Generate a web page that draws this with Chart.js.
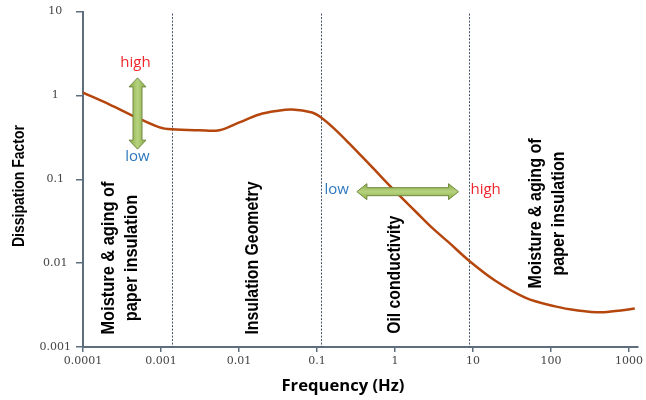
<!DOCTYPE html>
<html>
<head>
<meta charset="utf-8">
<script src="https://cdn.jsdelivr.net/npm/chart.js@4"></script>
<style>
html, body { margin: 0; padding: 0; background: #fff; }
</style>
</head>
<body>
<canvas id="grafico" width="646" height="400"></canvas>
<script>
// curve (Hz, dissipation factor)
const frequency = [0.0001, 0.00022, 0.00049, 0.00096, 0.00137, 0.0031, 0.0056, 0.0101, 0.0182, 0.03, 0.048, 0.0865, 0.113,
  0.165, 0.257, 0.506, 1.02, 1.84, 3.13, 4.86, 9.0, 19.4, 46.8, 113, 222, 438, 788, 1190];
const dissipation = [1.08, 0.778, 0.546, 0.416, 0.394, 0.384, 0.384, 0.477, 0.593, 0.652, 0.679, 0.626, 0.546,
  0.405, 0.270, 0.1405, 0.0712, 0.0413, 0.0254, 0.0178, 0.01063, 0.00617, 0.00389, 0.00305, 0.00273, 0.00259, 0.00273, 0.00288];

const xTicks = [0.0001, 0.001, 0.01, 0.1, 1, 10, 100, 1000];
const xTickLabels = ['0.0001', '0.001', '0.01', '0.1', '1', '10', '100', '1000'];
const yTicks = [0.001, 0.01, 0.1, 1, 10];
const yTickLabels = ['0.001', '0.01', '0.1', '1', '10'];

// frequencies where the regions change
const boundaries = [0.00137, 0.112, 9.0];
const regionNames = [
  ['Moisture & aging of', 'paper insulation'],
  ['Insulation Geometry'],
  ['Oil conductivity'],
  ['Moisture & aging of', 'paper insulation']
];

// where the notes sit, in data units
const regionSpots = [
  { x: 0.0003, y: 0.0115, len: 153 },
  { x: 0.015, y: 0.0115, len: 153 },
  { x: 1.0, y: 0.00727, len: 118 },
  { x: 90, y: 0.0392, len: 150 }
];
const vArrow = { x: 0.0005, from: 1.62, to: 0.229, high: 2.43, low: 0.184 };
const hArrow = { y: 0.0712, from: 0.325, to: 6.53, low: 0.257, high: 9.3 };

const axisColor = '#5E6E7D';
const lineColor = '#B5470E';
const redText = '#F0272D';
const blueText = '#2E78BE';

function fitText(ctx, lines, cx, cy, len, gap, font) {
  ctx.font = font;
  const k = len / ctx.measureText(lines[0]).width;
  lines.forEach((t, i) => {
    ctx.save();
    ctx.translate(cx + (i - (lines.length - 1) / 2) * gap, cy);
    ctx.rotate(-Math.PI / 2);
    ctx.scale(k, 1);
    ctx.textAlign = 'center';
    ctx.textBaseline = 'middle';
    ctx.fillText(t, 0, 0);
    ctx.restore();
  });
}

function arrowPath(ctx, a, b, shaft, head, headLen, vertical) {
  // double headed arrow from a to b along one axis
  const s = shaft / 2, h = head / 2;
  ctx.beginPath();
  if (vertical) {
    const x = a.x, y1 = a.y, y2 = b.y;
    ctx.moveTo(x, y1);
    ctx.lineTo(x + h, y1 + headLen);
    ctx.lineTo(x + s, y1 + headLen);
    ctx.lineTo(x + s, y2 - headLen);
    ctx.lineTo(x + h, y2 - headLen);
    ctx.lineTo(x, y2);
    ctx.lineTo(x - h, y2 - headLen);
    ctx.lineTo(x - s, y2 - headLen);
    ctx.lineTo(x - s, y1 + headLen);
    ctx.lineTo(x - h, y1 + headLen);
  } else {
    const y = a.y, x1 = a.x, x2 = b.x;
    ctx.moveTo(x1, y);
    ctx.lineTo(x1 + headLen, y - h);
    ctx.lineTo(x1 + headLen, y - s);
    ctx.lineTo(x2 - headLen, y - s);
    ctx.lineTo(x2 - headLen, y - h);
    ctx.lineTo(x2, y);
    ctx.lineTo(x2 - headLen, y + h);
    ctx.lineTo(x2 - headLen, y + s);
    ctx.lineTo(x1 + headLen, y + s);
    ctx.lineTo(x1 + headLen, y + h);
  }
  ctx.closePath();
}

function greenFill(ctx, x1, y1, x2, y2) {
  const g = ctx.createLinearGradient(x1, y1, x2, y2);
  g.addColorStop(0, '#8AAE48');
  g.addColorStop(0.5, '#B6D27E');
  g.addColorStop(1, '#8AAE48');
  return g;
}

const extras = {
  id: 'extras',
  beforeDatasetsDraw(chart) {
    const { ctx, scales: { x }, chartArea } = chart;
    ctx.save();
    ctx.strokeStyle = '#44546A';
    ctx.lineWidth = 1;
    ctx.setLineDash([2, 1.5]);
    boundaries.forEach(f => {
      const px = Math.round(x.getPixelForValue(f)) + 0.5;
      ctx.beginPath();
      ctx.moveTo(px, chartArea.top + 2);
      ctx.lineTo(px, chartArea.bottom);
      ctx.stroke();
    });
    ctx.restore();
  },
  afterDatasetsDraw(chart) {
    const { ctx, scales: { x, y } } = chart;
    ctx.save();
    ctx.fillStyle = '#000';
    regionNames.forEach((lines, i) => {
      const s = regionSpots[i];
      fitText(ctx, lines, x.getPixelForValue(s.x), y.getPixelForValue(s.y), s.len, 23,
        "bold 19px 'Liberation Sans Narrow', 'Liberation Sans', sans-serif");
    });

    // vertical arrow
    const vx = x.getPixelForValue(vArrow.x);
    const vy1 = y.getPixelForValue(vArrow.from), vy2 = y.getPixelForValue(vArrow.to);
    arrowPath(ctx, { x: vx, y: vy1 }, { x: vx, y: vy2 }, 9, 17, 9, true);
    ctx.fillStyle = greenFill(ctx, vx - 8, 0, vx + 8, 0);
    ctx.fill();
    ctx.strokeStyle = '#71893F';
    ctx.lineWidth = 1;
    ctx.stroke();

    // horizontal arrow
    const hy = y.getPixelForValue(hArrow.y);
    const hx1 = x.getPixelForValue(hArrow.from), hx2 = x.getPixelForValue(hArrow.to);
    arrowPath(ctx, { x: hx1, y: hy }, { x: hx2, y: hy }, 8, 16, 10, false);
    ctx.fillStyle = greenFill(ctx, 0, hy - 8, 0, hy + 8);
    ctx.fill();
    ctx.stroke();

    ctx.font = "15px 'Open Sans', sans-serif";
    ctx.textBaseline = 'middle';
    ctx.textAlign = 'center';
    ctx.fillStyle = redText;
    ctx.fillText('high', vx - 2, y.getPixelForValue(vArrow.high));
    ctx.fillStyle = blueText;
    ctx.fillText('low', vx, y.getPixelForValue(vArrow.low));
    ctx.textAlign = 'right';
    ctx.fillText('low', x.getPixelForValue(hArrow.low), hy - 2);
    ctx.textAlign = 'left';
    ctx.fillStyle = redText;
    ctx.fillText('high', x.getPixelForValue(hArrow.high), hy - 2);

    // axis titles
    ctx.fillStyle = '#000';
    fitText(ctx, ['Dissipation Factor'], 19, 186, 122, 0,
      "bold 17px 'Liberation Sans Narrow', 'Liberation Sans', sans-serif");
    ctx.save();
    ctx.font = "bold 16px 'Open Sans', 'Liberation Sans', sans-serif";
    const k = 123 / ctx.measureText('Frequency (Hz)').width;
    ctx.translate(343, 386);
    ctx.scale(k, 1);
    ctx.textAlign = 'center';
    ctx.textBaseline = 'middle';
    ctx.fillText('Frequency (Hz)', 0, 0);
    ctx.restore();
    ctx.restore();
  }
};

const points = frequency.map((f, i) => ({ x: f, y: dissipation[i] }));

const config = {
  type: 'line',
  data: {
    datasets: [{
      data: points,
      borderColor: lineColor,
      borderWidth: 2.5,
      pointRadius: 0,
      fill: false,
      tension: 0.35
    }]
  },
  options: {
    responsive: false,
    animation: false,
    devicePixelRatio: 1,
    layout: { padding: { top: 8, right: 6, left: 0, bottom: 0 } },
    scales: {
      x: {
        type: 'logarithmic',
        min: 0.0001,
        max: 1298,
        afterBuildTicks: s => { s.ticks = xTicks.map(v => ({ value: v })); },
        afterFit: s => { s.height = 53; },
        border: { color: axisColor, width: 2 },
        grid: { drawOnChartArea: false, drawTicks: true, tickLength: 5, color: axisColor, lineWidth: 1.5 },
        ticks: {
          autoSkip: false,
          maxRotation: 0,
          padding: 3,
          color: '#444',
          font: { family: "'DejaVu Serif'", size: 11 },
          callback: (v) => xTickLabels[xTicks.indexOf(v)] ?? ''
        }
      },
      y: {
        type: 'logarithmic',
        min: 0.001,
        max: 10,
        afterBuildTicks: s => { s.ticks = yTicks.map(v => ({ value: v })); },
        afterFit: s => { s.width = 83; },
        border: { color: axisColor, width: 2 },
        grid: { drawOnChartArea: false, drawTicks: true, tickLength: 7, color: axisColor, lineWidth: 1.5 },
        ticks: {
          autoSkip: false,
          crossAlign: 'center',
          padding: 5,
          color: '#444',
          font: { family: "'DejaVu Serif'", size: 11 },
          callback: (v) => yTickLabels[yTicks.indexOf(v)] ?? ''
        }
      }
    },
    plugins: {
      legend: { display: false },
      title: { display: false },
      tooltip: { enabled: false }
    }
  },
  plugins: [extras]
};

const meuGrafico = new Chart(document.getElementById('grafico'), config);
</script>
</body>
</html>
